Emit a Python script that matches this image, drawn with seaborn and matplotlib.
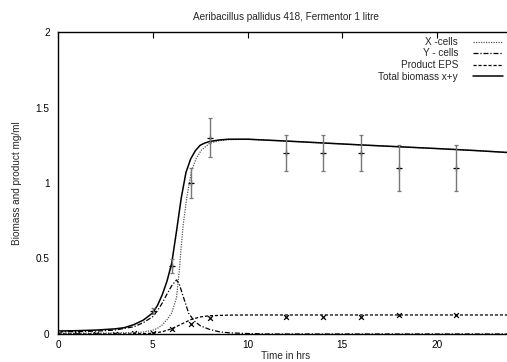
import numpy as np
import pandas as pd
import seaborn as sns
import matplotlib.pyplot as plt

# model curves
t_total = [0, 1, 2, 3, 3.5, 4, 4.5, 5, 5.25, 5.5, 5.75, 6, 6.25, 6.5, 6.75, 7, 7.25,
           7.5, 7.75, 8, 8.5, 9, 10, 12, 14, 16, 18, 20, 22, 24]
total = [0.02, 0.022, 0.026, 0.034, 0.042, 0.062, 0.092, 0.14, 0.19, 0.26, 0.35, 0.47,
         0.68, 0.9, 1.07, 1.16, 1.215, 1.25, 1.265, 1.275, 1.285, 1.29, 1.29, 1.278,
         1.265, 1.252, 1.24, 1.228, 1.215, 1.2]

t_x = [0, 1, 2, 3, 4, 4.5, 5, 5.25, 5.5, 5.75, 6, 6.25, 6.4, 6.5, 6.6, 6.8, 7.05, 7.3,
       7.57, 8, 8.5, 9, 10, 12, 14, 16, 18, 20, 22, 24]
x_cells = [0.005, 0.005, 0.006, 0.007, 0.009, 0.013, 0.025, 0.038, 0.06, 0.095, 0.14,
           0.24, 0.42, 0.58, 0.72, 0.91, 1.086, 1.165, 1.219, 1.263, 1.28, 1.287, 1.29,
           1.278, 1.265, 1.252, 1.24, 1.228, 1.215, 1.2]

t_y = [0, 1, 2, 3, 4, 4.5, 5, 5.25, 5.5, 5.75, 6, 6.25, 6.4, 6.6, 6.9, 7.2, 7.5, 8,
       8.5, 9, 10, 11, 24]
y_cells = [0.014, 0.016, 0.019, 0.026, 0.048, 0.075, 0.115, 0.155, 0.205, 0.265, 0.32,
           0.358, 0.33, 0.25, 0.135, 0.085, 0.055, 0.03, 0.015, 0.008, 0.003, 0.0, 0.0]

t_eps = [0, 4, 5, 5.5, 6, 6.5, 7, 7.5, 8, 9, 10, 24]
eps = [0.0, 0.0, 0.005, 0.015, 0.035, 0.065, 0.095, 0.113, 0.121, 0.125, 0.126, 0.126]

# measured points
t_bio = [0, 5, 6, 7, 8, 12, 14, 16, 18, 21]
bio = [0.015, 0.154, 0.45, 1.0, 1.3, 1.2, 1.2, 1.2, 1.1, 1.1]
bio_err = [0.005, 0.02, 0.045, 0.1, 0.13, 0.12, 0.12, 0.12, 0.15, 0.15]

t_eps_pts = [0, 1, 2, 3, 4, 5, 6, 7, 8, 12, 14, 16, 18, 21]
eps_pts = [0.005, 0.003, 0.003, 0.003, 0.004, 0.008, 0.033, 0.068, 0.108, 0.115, 0.115,
           0.115, 0.124, 0.124]

fs = 7.2
sns.set_theme(style="white")
plt.rcParams['font.family'] = ['Liberation Sans', 'DejaVu Sans']
plt.rcParams['font.size'] = fs

fig = plt.figure(figsize=(5.07, 3.62), dpi=100)
ax = fig.add_axes([58 / 507, 1 - 334 / 362, (513 - 58) / 507, (334 - 32) / 362])

sns.lineplot(x=t_x, y=x_cells, ax=ax, color="#555555", lw=0.9,
             linestyle=(0, (1, 1)), label="X -cells")
sns.lineplot(x=t_y, y=y_cells, ax=ax, color="black", lw=0.9,
             linestyle=(0, (4, 1.5, 1, 1.5)), label="Y - cells")
sns.lineplot(x=t_eps, y=eps, ax=ax, color="black", lw=0.9,
             linestyle=(0, (2.5, 1.5)), label="Product EPS")
sns.lineplot(x=t_total, y=total, ax=ax, color="black", lw=1.1, label="Total biomass x+y")

eb = ax.errorbar(t_bio, bio, yerr=bio_err, fmt="none", ecolor="#777777",
                 elinewidth=1.0, capsize=1.6, capthick=0.9)
for cap in eb[1]:
    cap.set_color("black")
sns.scatterplot(x=t_bio, y=bio, ax=ax, marker="+", color="black", s=18,
                linewidth=0.9, legend=False)
sns.scatterplot(x=t_eps_pts, y=eps_pts, ax=ax, marker="x", color="black", s=12,
                linewidth=0.9, legend=False)

ax.set_xlim(0, 24)
ax.set_ylim(0, 2)
ax.set_xticks([0, 5, 10, 15, 20])
ax.set_yticks([0, 0.5, 1, 1.5, 2])
ax.set_yticklabels(["0", "0.5", "1", "1.5", "2"])
ax.tick_params(direction="in", length=4, width=0.8, top=True, right=True,
               labelsize=fs, colors="black", pad=4)
ax.tick_params(axis="y", pad=6)
for sp in ax.spines.values():
    sp.set_color("black")
    sp.set_linewidth(1.0)

ax.set_title("Aeribacillus pallidus 418, Fermentor 1 litre", fontsize=fs, pad=9)
ax.set_xlabel("Time in hrs", fontsize=fs, labelpad=1)
ax.set_ylabel("Biomass and product mg/ml", fontsize=fs, labelpad=10)

ax.legend(loc="upper right", bbox_to_anchor=(503 / 507, 1 - 37 / 362),
          bbox_transform=fig.transFigure, frameon=False, markerfirst=False,
          fontsize=fs, handlelength=3.0, handletextpad=1.5, labelspacing=0.15,
          borderaxespad=0, borderpad=0)

fig.savefig("out.png", dpi=100)
